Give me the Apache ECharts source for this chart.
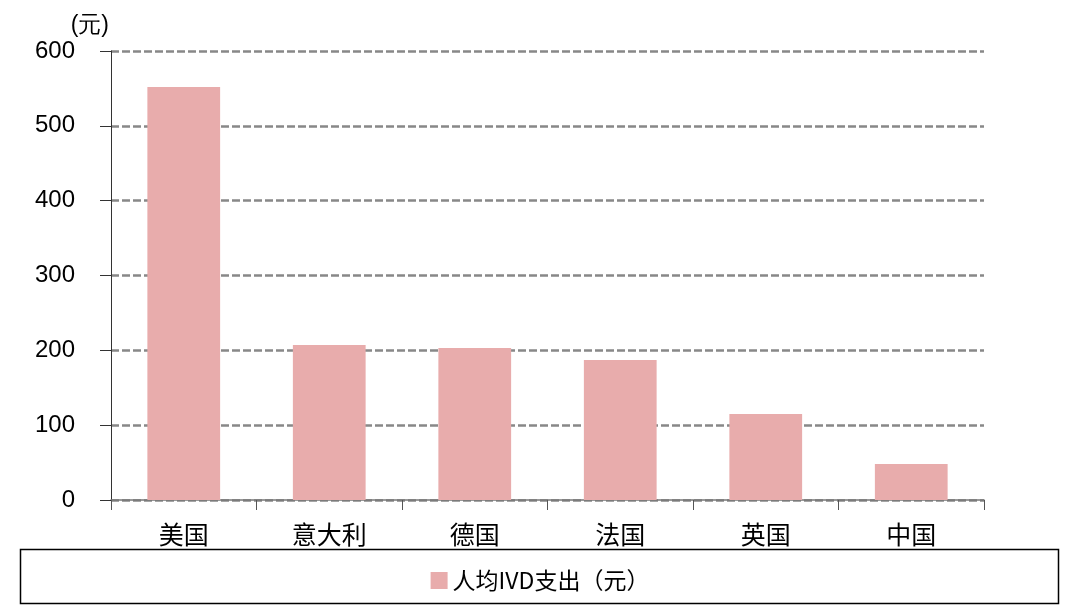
<!DOCTYPE html>
<html><head><meta charset="utf-8">
<script src="https://cdn.jsdelivr.net/npm/echarts@6/dist/echarts.min.js"></script>
<style>html,body{margin:0;padding:0;background:#fff}#c{width:1080px;height:613px}</style>
</head><body><div id="c"></div>
<script>
const categories = ['美国','意大利','德国','法国','英国','中国'];
const values = [552, 207, 203, 187, 115, 48];
const seriesName = '人均IVD支出（元）';
const unitLabel = '(元)';

const chart = echarts.init(document.getElementById('c'));
chart.setOption({
  animation: false,
  backgroundColor: '#fff',
  grid: {left: 111, right: 96, top: 51, bottom: 113},
  legend: {
    data: [seriesName], left: 'center', top: 564, itemWidth: 17, itemHeight: 17, icon: 'rect', itemGap: 10,
    textStyle: {fontFamily: 'Noto Sans CJK SC', fontSize: 23, color: '#000'}
  },
  graphic: [{
    type: 'rect', shape: {x: 20.5, y: 549.5, width: 1038, height: 54},
    style: {fill: 'none', stroke: '#000', lineWidth: 1.5}, z: -1
  }],
  xAxis: {
    type: 'category', data: categories,
    axisLine: {lineStyle: {color: '#777', width: 1.5}},
    axisTick: {show: true, length: 10, lineStyle: {color: '#555'}},
    axisLabel: {fontFamily: 'Noto Sans CJK SC', fontSize: 25, color: '#000', margin: 22}
  },
  yAxis: {
    type: 'value', min: 0, max: 600, interval: 100,
    name: unitLabel, nameLocation: 'end', nameGap: 14,
    nameTextStyle: {fontFamily: 'Liberation Sans', fontSize: 23, color: '#000', align: 'right', padding: [0, 2, 0, 0]},
    axisLine: {show: true, lineStyle: {color: '#333', width: 1}},
    axisTick: {show: true, length: 11, lineStyle: {color: '#333'}},
    axisLabel: {fontFamily: 'Liberation Sans', fontSize: 24, color: '#000', margin: 36},
    splitLine: {lineStyle: {color: '#888', width: 2.5, type: [8, 3]}}
  },
  series: [{
    name: seriesName, type: 'bar', data: values, barWidth: '50%',
    itemStyle: {color: '#E8ACAC'}
  }]
});
</script></body></html>
